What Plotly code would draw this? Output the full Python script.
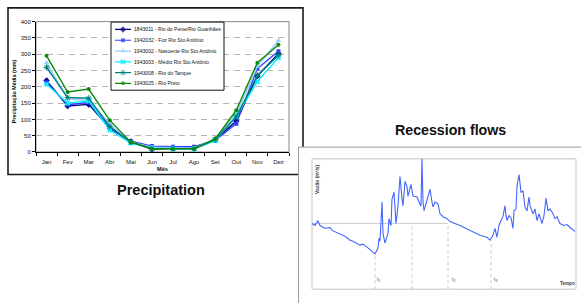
import plotly.graph_objects as go

W, H = 581, 303

# ---------------- Precipitation data ----------------
months = ["Jan", "Fev", "Mar", "Abr", "Mai", "Jun", "Jul", "Ago", "Set", "Out", "Nov", "Dez"]
series_names = [
    "1843011 - Rio do Peixe/Rio Guanhães",
    "1942032 - Foz Rio Sto Antônio",
    "1943002 - Nascente Rio Sto Antônio",
    "1943003 - Médio Rio Sto Antônio",
    "1943008 - Rio do Tanque",
    "1943025 - Rio Preto",
]
rio_peixe = [219, 141, 146, 73, 32, 8, 12, 12, 38, 95, 233, 302]
foz_sto_antonio = [214, 145, 152, 76, 33, 18, 16, 16, 36, 87, 256, 309]
nascente_sto_antonio = [274, 163, 158, 86, 30, 15, 13, 12, 40, 116, 262, 342]
medio_sto_antonio = [208, 150, 157, 67, 27, 12, 10, 10, 35, 110, 216, 289]
rio_tanque = [260, 167, 165, 78, 30, 10, 10, 10, 38, 108, 235, 297]
rio_preto = [295, 184, 193, 97, 30, 10, 10, 10, 40, 128, 274, 329]
y_ticks = [0, 50, 100, 150, 200, 250, 300, 350, 400]

# ---------------- Recession flow data ----------------
tempo = [0, 3, 6, 8, 13, 18, 20, 26, 33, 38, 41, 48, 51, 55, 60, 63, 66, 67, 68, 70,
         71, 73, 76, 77, 79, 80, 82, 84, 86, 88, 90, 91, 93, 95, 96, 99, 101, 105, 107, 109,
         110, 111, 112, 115, 116, 118, 120, 121, 123, 126, 128, 131, 135, 138, 148, 158, 168, 175, 178, 181,
         183, 185, 187, 189, 191, 192, 193, 194, 195, 197, 199, 201, 202, 204, 205, 207, 208, 209, 211, 213,
         215, 217, 218, 221, 223, 225, 227, 230, 232, 234, 236, 238, 241, 243, 245, 248, 252, 255, 258, 261, 263]
vazao = [67, 65, 70, 65, 62, 63, 60, 57, 54, 50, 49, 45, 46, 43, 39, 36, 42, 52, 49, 89,
         57, 47, 57, 72, 65, 92, 99, 67, 85, 115, 92, 85, 110, 105, 95, 107, 95, 94, 89, 85,
         133, 89, 80, 92, 95, 102, 89, 84, 89, 87, 77, 74, 72, 69, 65, 60, 55, 53, 50, 55,
         62, 53, 65, 70, 74, 80, 85, 75, 70, 75, 73, 62, 80, 82, 105, 117, 104, 99, 100, 84,
         80, 94, 85, 77, 82, 70, 77, 67, 75, 93, 80, 82, 77, 72, 74, 67, 65, 66, 63, 61, 59]
recession_times = [63, 100, 136, 179]     # t1, (mid), t2, t3
recession_tops = [36, 67, 67, 50]
baseline_flow = 67
t_labels = ["t<sub>1</sub>", "t<sub>2</sub>", "t<sub>3</sub>"]
t_label_times = [66, 141, 183]

FONT = "Liberation Sans, Arial, sans-serif"


def px(x):
    return x / W


def py(y):
    return 1 - y / H


colors = ["#000080", "#2f3cff", "#99ccff", "#00f0ff", "#008080", "#0a8a0a"]
symbols = ["diamond", "square", "triangle-up", "x", "asterisk-open", "circle"]
sizes = [5, 4, 5, 5, 5, 4]
all_series = [rio_peixe, foz_sto_antonio, nascente_sto_antonio, medio_sto_antonio, rio_tanque, rio_preto]

# legend box geometry (pixels)
LB_X0, LB_X1, LB_Y0, LB_Y1 = 111, 224, 19.5, 89
SAMPLE_X0, SAMPLE_W = 115, 16
ROW0, ROW_H = 27, 11


def lx(pix):
    return (pix - SAMPLE_X0) / SAMPLE_W


def ly(pix):
    return (pix - ROW0) / ROW_H


fig = go.Figure()

for name, vals, c, s, sz in zip(series_names, all_series, colors, symbols, sizes):
    fig.add_trace(go.Scatter(
        x=months, y=vals, mode="lines+markers", name=name,
        line=dict(color=c, width=1.4),
        marker=dict(symbol=s, size=sz, color=c, line=dict(color=c, width=1 if "open" in s else 0)),
        xaxis="x", yaxis="y", showlegend=False, hoverinfo="skip",
    ))

# recession flow line
fig.add_trace(go.Scatter(
    x=tempo, y=vazao, mode="lines", line=dict(color="#4466ff", width=1.1),
    xaxis="x2", yaxis="y2", showlegend=False, hoverinfo="skip",
))

# legend samples (drawn on their own small axes)
for i, (name, c, s, sz) in enumerate(zip(series_names, colors, symbols, sizes)):
    fig.add_trace(go.Scatter(
        x=[0, 0.5, 1], y=[i, i, i], mode="lines+markers",
        line=dict(color=c, width=1.2),
        marker=dict(symbol=s, size=[0, sz, 0], color=c, line=dict(color=c, width=1 if "open" in s else 0)),
        xaxis="x3", yaxis="y3", showlegend=False, hoverinfo="skip",
    ))

shapes = [
    dict(type="rect", xref="paper", yref="paper", x0=px(8), x1=px(303), y0=py(175), y1=py(5),
         line=dict(color="#1a1a1a", width=1.6), layer="below"),
    dict(type="rect", xref="paper", yref="paper", x0=px(298.5), x1=px(600), y0=py(330), y1=py(147),
         line=dict(color="#9a9a9a", width=1), fillcolor="white", layer="below"),
    dict(type="rect", xref="x domain", yref="y domain", x0=0, x1=1, y0=0, y1=1,
         line=dict(color="#8a8a8a", width=1), layer="below"),
    # legend box: lives in the legend subplot's lower shape layer (above main chart, below samples)
    dict(type="rect", xref="x3", yref="y3", x0=lx(LB_X0), x1=lx(LB_X1), y0=ly(LB_Y0), y1=ly(LB_Y1),
         line=dict(color="#111111", width=1), fillcolor="white", layer="below"),
    dict(type="rect", xref="x2 domain", yref="y2 domain", x0=0, x1=1, y0=0, y1=1,
         line=dict(color="#c4c4c4", width=1), layer="below"),
    dict(type="line", xref="x2", yref="y2", x0=0, x1=recession_times[2], y0=baseline_flow, y1=baseline_flow,
         line=dict(color="#d0d0d0", width=1), layer="below"),
]
for t, top in zip(recession_times, recession_tops):
    shapes.append(dict(type="line", xref="x2", yref="y2", x0=t, x1=t, y0=0, y1=top,
                       line=dict(color="#c8c8c8", width=1, dash="dot"), layer="below"))


def ann(text, x, y, size, color="#111", angle=0, xanchor="center", bold=True, xref="paper"):
    return dict(text=f"<b>{text}</b>" if bold else text, xref=xref, yref="paper", x=x, y=y,
                xanchor=xanchor, yanchor="middle", textangle=angle, showarrow=False,
                font=dict(family=FONT, size=size, color=color))


annotations = [
    ann("Precipitação Média (mm)", px(14), py(90), 5.4, angle=-90),
    ann("Mês", px(162), py(169.5), 5.6),
    ann("Precipitation", px(161), py(190.5), 14.5),
    ann("Recession flows", px(450.5), py(130), 14.2),
    ann("Vazão (m³/s)", px(317.5), py(180), 5, color="#444", angle=-90),
    ann("Tempo", px(567), py(286.5), 4.6, color="#444"),
]
for lab, t in zip(t_labels, t_label_times):
    annotations.append(ann(lab, t, py(282), 5, color="#444", bold=False, xref="x2"))
for i, name in enumerate(series_names):
    annotations.append(ann(name, px(131.5), py(ROW0 + ROW_H * i), 5.1, xanchor="left", bold=False))

fig.update_layout(
    width=W, height=H, autosize=False,
    margin=dict(l=0, r=0, t=0, b=0),
    paper_bgcolor="white", plot_bgcolor="rgba(0,0,0,0)",
    font=dict(family=FONT, color="#111"),
    shapes=shapes, annotations=annotations,
    xaxis=dict(domain=[px(36), px(289)], anchor="y", type="category", categoryorder="array",
               categoryarray=months, range=[-0.5, 11.5], showgrid=False, zeroline=False,
               showline=True, linecolor="#000", linewidth=1, ticks="outside", ticklen=3,
               tickcolor="#000", tickson="boundaries", ticklabelstandoff=4,
               tickfont=dict(size=6, color="#111")),
    yaxis=dict(domain=[py(152), py(19)], anchor="x", range=[0, 400], tickvals=y_ticks,
               showgrid=True, gridcolor="#b4b4b4", gridwidth=1, griddash="6px,5px",
               zeroline=False, showline=True, linecolor="#000", linewidth=1,
               ticks="outside", ticklen=3, tickcolor="#000", tickfont=dict(size=6, color="#111")),
    xaxis2=dict(domain=[px(312), px(576)], anchor="y2", range=[0, 264], visible=False),
    yaxis2=dict(domain=[py(292), py(159)], anchor="x2", range=[0, 133], visible=False),
    xaxis3=dict(domain=[px(LB_X0 - 1.5), px(LB_X1 + 1.5)], anchor="y3",
                range=[lx(LB_X0 - 1.5), lx(LB_X1 + 1.5)], visible=False),
    yaxis3=dict(domain=[py(LB_Y1 + 1.5), py(LB_Y0 - 1.5)], anchor="x3",
                range=[ly(LB_Y1 + 1.5), ly(LB_Y0 - 1.5)], visible=False),
)

fig.write_html("out.html", config={"displayModeBar": False},
               post_script="document.body.style.margin='0';document.body.style.overflow='hidden';")
